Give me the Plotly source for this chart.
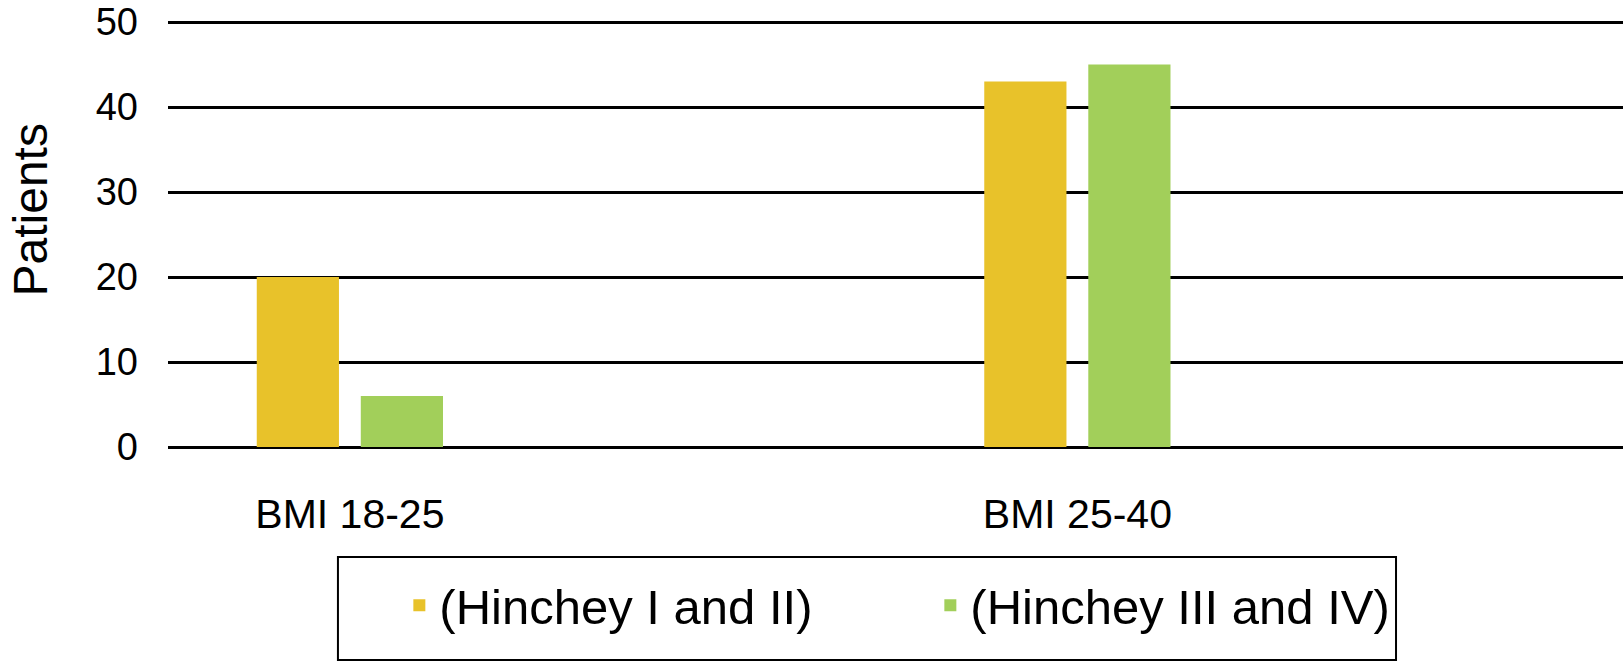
import plotly.graph_objects as go

# BMI groups and patient counts per Hinchey class
categories = ["BMI 18-25", "BMI 25-40"]
hinchey_1_2 = [20, 43]
hinchey_3_4 = [6, 45]
series_names = ["(Hinchey I and II)", "(Hinchey III and IV)"]
y_ticks = [0, 10, 20, 30, 40, 50]

FONT = "Liberation Sans, Arial, Helvetica, sans-serif"

fig = go.Figure()

fig.add_trace(go.Bar(
    x=categories, y=hinchey_1_2, name=series_names[0],
    marker=dict(color="#E8C22A", line=dict(width=0)),
    width=0.113, offset=-0.128,
))
fig.add_trace(go.Bar(
    x=categories, y=hinchey_3_4, name=series_names[1],
    marker=dict(color="#A2CF5A", line=dict(width=0)),
    width=0.113, offset=0.015,
))

fig.update_layout(
    width=1623, height=663,
    margin=dict(l=168, r=0, t=20, b=216, autoexpand=False),
    paper_bgcolor="white", plot_bgcolor="white",
    font=dict(family=FONT, color="black"),
    barmode="overlay",
    showlegend=True,
    legend=dict(
        orientation="h",
        x=0.159, xanchor="left",
        y=-0.281, yanchor="top",
        borderwidth=0,
        bgcolor="rgba(0,0,0,0)",
        font=dict(size=49, family=FONT),
        entrywidth=486,
    ),
    # frame around the legend
    shapes=[dict(
        type="rect", xref="paper", yref="paper",
        x0=0.1168, x1=0.844, y0=-0.4988, y1=-0.2576,
        line=dict(color="black", width=2),
    )],
    annotations=[dict(
        text="Patients", xref="paper", yref="paper",
        x=-0.0945, y=0.555, xanchor="center", yanchor="middle",
        textangle=-90, showarrow=False,
        font=dict(size=48, family=FONT),
    )],
)

fig.update_xaxes(
    range=[-0.25, 1.75],
    showgrid=False, showline=False, zeroline=False,
    tickfont=dict(size=41, family=FONT),
    ticklabelstandoff=39,
    automargin=False,
)
fig.update_yaxes(
    range=[0, 50.25],
    tickvals=y_ticks,
    showgrid=True, gridcolor="black", gridwidth=3,
    zeroline=True, zerolinecolor="black", zerolinewidth=3,
    showline=False,
    tickfont=dict(size=38, family=FONT),
    ticklabelstandoff=29,
    ticklabeloverflow="allow",
    automargin=False,
)

# drop the default 8px page margin so the figure fills the window
fig.write_html(
    "out.html",
    config={"displayModeBar": False},
    post_script="document.body.style.margin = '0';",
)
